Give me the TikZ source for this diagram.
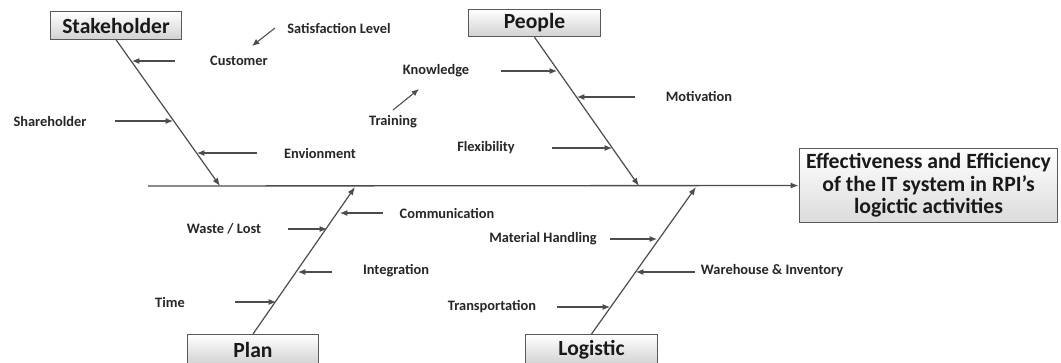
\documentclass[tikz,border=0pt]{standalone}
\usepackage{fontspec}
\setmainfont{Carlito}
\usetikzlibrary{arrows.meta}
\begin{document}
\begin{tikzpicture}[x=0.75pt,y=-0.75pt,
  bone/.style={draw=black!70, line width=0.9pt},
  arr/.style={draw=black!70, line width=0.8pt, -{Latex[length=5.5pt,width=4.5pt]}},
  lbl/.style={font=\bfseries\fontsize{10.8}{12}\selectfont, text=black!85, inner sep=0pt},
  catbox/.style={draw=black!65, line width=0.8pt, top color=white, bottom color=black!18,
    font=\bfseries\fontsize{16.2}{18}\selectfont, text=black!90, inner sep=0pt,
    minimum width=98.5pt, minimum height=20.5pt},
  effbox/.style={draw=black!65, line width=0.8pt, top color=white, bottom color=black!14,
    font=\bfseries\fontsize{16.3}{17}\selectfont, text=black!90, align=center, inner sep=0pt,
    minimum width=194pt, minimum height=56pt}]
\useasboundingbox (0,0) rectangle (1061,362);
% boxes
\node[catbox] (stake) at (116,25.5) {Stakeholder};
\node[catbox] (people) at (534.5,23) {People};
\node[catbox, minimum height=23pt, anchor=north] (plan) at (253,334) {Plan};
\node[catbox, minimum height=23pt, anchor=north] (logis) at (591.5,334) {Logistic};
\node[effbox] (eff) at (928.5,185.5) {Effectiveness and Efficiency\\of the IT system in RPI's\\logictic activities};
% spine
\coordinate (sp0) at (148,186);
\coordinate (tS) at (220,186);
\coordinate (tP) at (639,186);
\coordinate (tPl) at (355,187);
\coordinate (tL) at (696,187);
\draw[bone, line width=1pt, -{Latex[length=6pt,width=4.5pt]}] (sp0) -- (eff.west);
% main bones
\draw[bone, -{Latex[length=6pt,width=4.5pt]}] (stake.south) -- (tS);
\draw[bone, -{Latex[length=6pt,width=4.5pt]}] (people.south) -- (tP);
\draw[bone, -{Latex[length=6pt,width=4.5pt]}] (plan.north) -- (tPl);
\draw[bone, -{Latex[length=6pt,width=4.5pt]}] (logis.north) -- (tL);
% Stakeholder causes
\node[lbl] (satis) at (339,28) {Satisfaction Level};
\node[lbl] (cust) at (239,61) {Customer};
\node[lbl] (share) at (50,121) {Shareholder};
\node[lbl] (envi) at (320,153) {Envionment};
\coordinate (a1s) at (275,28); \coordinate (a1e) at (252,46);
\coordinate (a2s) at (175,61); \coordinate (a2e) at (132,61);
\coordinate (a3s) at (115,121); \coordinate (a3e) at (173,121);
\coordinate (a4s) at (257,153); \coordinate (a4e) at (197,153);
\draw[arr] (a1s) -- (a1e);
\draw[arr] (a2s) -- (a2e);
\draw[arr] (a3s) -- (a3e);
\draw[arr] (a4s) -- (a4e);
% People causes
\node[lbl] (know) at (436,71) {Knowledge};
\node[lbl] (train) at (393,122) {Training};
\node[lbl] (moti) at (699,96) {Motivation};
\node[lbl] (flex) at (486,148) {Flexibility};
\coordinate (b1s) at (501,71); \coordinate (b1e) at (557,71);
\coordinate (b2s) at (393,110); \coordinate (b2e) at (419,89);
\coordinate (b3s) at (635,97); \coordinate (b3e) at (577,97);
\coordinate (b4s) at (552,148); \coordinate (b4e) at (612,148);
\draw[arr] (b1s) -- (b1e);
\draw[arr] (b2s) -- (b2e);
\draw[arr] (b3s) -- (b3e);
\draw[arr] (b4s) -- (b4e);
% Plan causes
\node[lbl] (comm) at (447,213) {Communication};
\node[lbl] (waste) at (224,229) {Waste / Lost};
\node[lbl] (integ) at (396,271) {Integration};
\node[lbl] (time) at (170,302) {Time};
\coordinate (c1s) at (383,213); \coordinate (c1e) at (340,213);
\coordinate (c2s) at (288,229); \coordinate (c2e) at (327,229);
\coordinate (c3s) at (332,272); \coordinate (c3e) at (298,272);
\coordinate (c4s) at (235,302); \coordinate (c4e) at (276,302);
\draw[arr] (c1s) -- (c1e);
\draw[arr] (c2s) -- (c2e);
\draw[arr] (c3s) -- (c3e);
\draw[arr] (c4s) -- (c4e);
% Logistic causes
\node[lbl] (mat) at (543,239) {Material Handling};
\node[lbl] (ware) at (772,271) {Warehouse \& Inventory};
\node[lbl] (trans) at (492,307) {Transportation};
\coordinate (d1s) at (610,239); \coordinate (d1e) at (657,239);
\coordinate (d2s) at (695,272); \coordinate (d2e) at (636,272);
\coordinate (d3s) at (557,307); \coordinate (d3e) at (610,307);
\draw[arr] (d1s) -- (d1e);
\draw[arr] (d2s) -- (d2e);
\draw[arr] (d3s) -- (d3e);
\end{tikzpicture}
\end{document}
